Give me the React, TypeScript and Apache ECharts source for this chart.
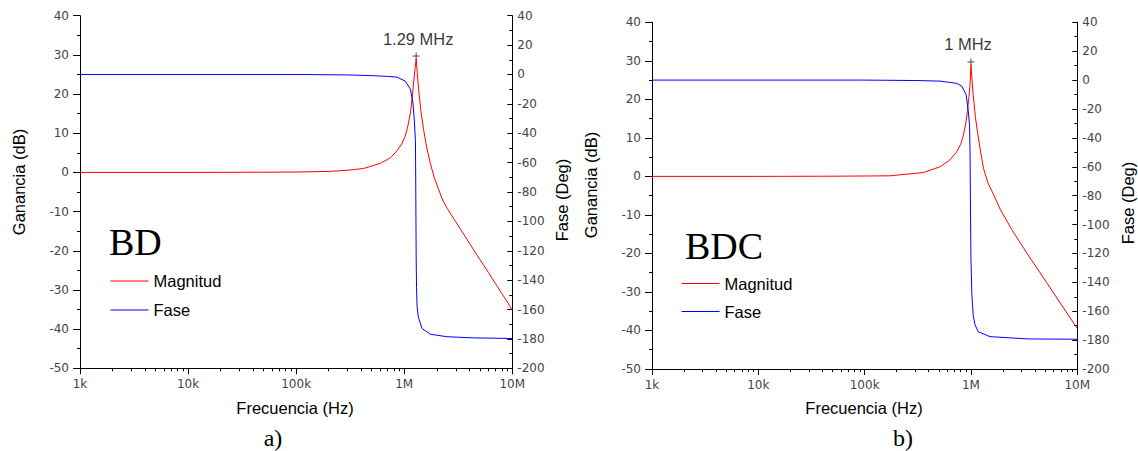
import React, { useEffect, useRef } from 'react';
import * as echarts from 'echarts';

// ---------- data ----------
const xTickLabels = ['1k', '10k', '100k', '1M', '10M'];

// Panel a) BD : [frequency Hz, value]
const bdMagnitude: [number, number][] = [
  [1e3, 0], [1e4, 0], [5e4, 0.05], [1e5, 0.1], [2e5, 0.25], [3e5, 0.55], [4.2e5, 1.0],
  [6e5, 2.3], [7.5e5, 3.8], [8.55e5, 5.5], [9.5e5, 7.3], [1.02e6, 9.2], [1.08e6, 11.8],
  [1.14e6, 15.1], [1.19e6, 19.5], [1.22e6, 22.8], [1.26e6, 26.5], [1.29e6, 29.0],
  [1.32e6, 25.5], [1.36e6, 21.0], [1.43e6, 15.5], [1.51e6, 10.9], [1.62e6, 6.2],
  [1.74e6, 2.4], [1.9e6, -1.4], [2.08e6, -4.3], [2.23e6, -6.6], [2.5e6, -9.2], [3e6, -12.6],
  [4e6, -18.0], [5e6, -22.2], [6e6, -25.5], [7e6, -28.4], [8e6, -30.9], [9e6, -33.1],
  [1e7, -35.2],
];
const bdPhase: [number, number][] = [
  [1e3, 0], [1e5, 0], [3e5, -0.3], [5e5, -0.8], [7e5, -1.3], [8.55e5, -1.8],
  [1.02e6, -4.5], [1.14e6, -10], [1.205e6, -19.5], [1.24e6, -31], [1.27e6, -45],
  [1.28e6, -80], [1.29e6, -125], [1.3e6, -145], [1.315e6, -158], [1.35e6, -165],
  [1.457e6, -172.8], [1.74e6, -176.8], [2.48e6, -178.5], [4.38e6, -179.3], [1e7, -179.7],
];

// Panel b) BDC
const bdcMagnitude: [number, number][] = [
  [1e3, 0], [1e4, 0], [5e4, 0.05], [1e5, 0.1], [1.73e5, 0.15], [3.57e5, 1.0],
  [5.12e5, 2.5], [6.3e5, 4.2], [7.35e5, 6.4], [8e5, 8.3], [8.49e5, 10.7], [8.9e5, 13.5],
  [9.25e5, 16.8], [9.55e5, 20.5], [9.8e5, 23.7], [1.0e6, 29.0], [1.02e6, 25.5],
  [1.05e6, 21.1], [1.1e6, 15.5], [1.15e6, 11.6], [1.23e6, 6.5], [1.31e6, 2.1],
  [1.45e6, -1.8], [1.63e6, -4.7], [1.88e6, -8.5], [2.42e6, -13.8], [3.35e6, -19.9],
  [4.2e6, -23.9], [5.16e6, -27.6], [7e6, -33.1], [1e7, -39.5],
];
const bdcPhase: [number, number][] = [
  [1e3, 0], [1e5, 0], [3e5, -0.3], [5.12e5, -0.7], [7.35e5, -2.3], [8.19e5, -4.2],
  [9e5, -10], [9.45e5, -21.9], [9.7e5, -32], [9.8e5, -50], [9.9e5, -90], [1.0e6, -125],
  [1.02e6, -149], [1.05e6, -163], [1.093e6, -169.5], [1.17e6, -174.2], [1.51e6, -177.6],
  [3.47e6, -179.2], [1e7, -179.4],
];

const peakBD = { freq: 1.29e6, gain: 29.7, label: '1.29 MHz' };
const peakBDC = { freq: 1.0e6, gain: 29.7, label: '1 MHz' };

// ---------- style helpers ----------
const SANS = '"Liberation Sans", Arial, sans-serif';
const TICKFONT = '"DejaVu Sans", sans-serif';
const SERIF = '"Liberation Serif", "Times New Roman", serif';
const RED = '#ff0000';
const BLUE = '#0000ff';

// log-minor tick positions (decoration only), expressed in log10 space
const minorTickPos: number[] = [];
for (let d = 3; d < 7; d++) {
  for (let k = 2; k <= 9; k++) minorTickPos.push(Math.log10(k * Math.pow(10, d)));
}

function mainX(gridIndex: number) {
  return {
    type: 'log', logBase: 10, gridIndex, min: 1e3, max: 1e7, position: 'bottom',
    axisLine: { show: true, onZero: false, lineStyle: { color: '#000', width: 1 } },
    axisTick: { show: true, length: 6, lineStyle: { color: '#000' } },
    axisLabel: {
      margin: 10, color: '#444', fontSize: 12, fontFamily: TICKFONT,
      formatter: (v: number) => xTickLabels[Math.round(Math.log10(v)) - 3] ?? '',
    },
    splitLine: { show: false },
  };
}
function minorX(gridIndex: number) {
  return {
    type: 'value', gridIndex, min: 3, max: 7, position: 'bottom',
    axisLine: { show: true, onZero: false, lineStyle: { color: 'rgba(0,0,0,0)' } },
    axisTick: { show: true, inside: false, length: 3, customValues: minorTickPos, lineStyle: { color: '#000', width: 1 } },
    axisLabel: { show: false },
    splitLine: { show: false },
  };
}
function gainY(gridIndex: number) {
  return {
    type: 'value', gridIndex, min: -50, max: 40, interval: 10, position: 'left',
    axisLine: { show: true, onZero: false, lineStyle: { color: '#000', width: 1 } },
    axisTick: { show: true, length: 7, lineStyle: { color: '#000' } },
    minorTick: { show: true, splitNumber: 2, length: 3, lineStyle: { color: '#000' } },
    axisLabel: { margin: 11, color: '#444', fontSize: 12, fontFamily: TICKFONT },
    splitLine: { show: false },
  };
}
function phaseY(gridIndex: number) {
  return {
    type: 'value', gridIndex, min: -200, max: 40, interval: 20, position: 'right',
    axisLine: { show: true, onZero: false, lineStyle: { color: '#000', width: 1 } },
    axisTick: { show: true, inside: true, length: 5, lineStyle: { color: '#000' } },
    minorTick: { show: true, splitNumber: 2, length: 3, lineStyle: { color: '#000' } },
    axisLabel: { margin: 5, color: '#444', fontSize: 12, fontFamily: TICKFONT },
    splitLine: { show: false },
  };
}
function lineSeries(name: string, data: [number, number][], xi: number, yi: number, color: string) {
  return {
    type: 'line', name, data, xAxisIndex: xi, yAxisIndex: yi,
    showSymbol: false, symbol: 'none', smooth: false,
    lineStyle: { color, width: 1 }, itemStyle: { color },
    emphasis: { disabled: true }, silent: true,
  };
}
function peakSeries(p: { freq: number; gain: number; label: string }, xi: number, yi: number, dx: number) {
  return {
    type: 'scatter', name: 'peak-' + p.label, xAxisIndex: xi, yAxisIndex: yi,
    data: [{ value: [p.freq, p.gain], name: p.label }],
    symbol: 'path://M0,4L8,4M4,0L4,8', symbolSize: 7,
    itemStyle: { color: 'none', borderColor: '#222', borderWidth: 1 },
    label: {
      show: true, position: 'top', distance: 3, offset: [dx, 0],
      formatter: (q: any) => q.name, color: '#000', fontSize: 16.5, fontFamily: SANS,
    },
    silent: true,
  };
}
function txt(text: string, x: number, y: number, size: number, family: string, opts: any = {}) {
  return {
    type: 'text', x, y, rotation: opts.rotation || 0, silent: true,
    style: {
      text, fontSize: size, fontFamily: family, fill: '#000',
      align: opts.align || 'center', verticalAlign: 'middle',
    },
  };
}
function legendAt(left: number, top: number, gap: number) {
  return {
    left, top, orient: 'vertical', padding: 0,
    itemWidth: 38, itemHeight: 17, itemGap: gap,
    data: ['Magnitud', 'Fase'],
    itemStyle: { opacity: 0 },
    lineStyle: { width: 1 },
    textStyle: { color: '#000', fontSize: 16.5, fontFamily: SANS },
    selectedMode: false,
  };
}

export default function App() {
  const ref = useRef<HTMLDivElement>(null);
  useEffect(() => {
    if (!ref.current) return;
    const chart = echarts.init(ref.current, undefined, { renderer: 'svg' });
    const R = Math.PI / 2;
    chart.setOption({
      animation: false,
      backgroundColor: '#fff',
      grid: [
        { left: 80, top: 15.7, width: 432.3, height: 352.6, containLabel: false },
        { left: 652, top: 22.3, width: 425.3, height: 346.7, containLabel: false },
      ],
      xAxis: [mainX(0), minorX(0), mainX(1), minorX(1)],
      yAxis: [gainY(0), phaseY(0), gainY(1), phaseY(1)],
      legend: [legendAt(110, 272.5, 12), legendAt(681, 275, 11)],
      series: [
        lineSeries('Magnitud', bdMagnitude, 0, 0, RED),
        lineSeries('Fase', bdPhase, 0, 1, BLUE),
        peakSeries(peakBD, 0, 0, 2),
        lineSeries('Magnitud', bdcMagnitude, 2, 2, RED),
        lineSeries('Fase', bdcPhase, 2, 3, BLUE),
        peakSeries(peakBDC, 2, 2, -3),
      ],
      graphic: [
        txt('Ganancia (dB)', 19, 182, 16.5, SANS, { rotation: R }),
        txt('Fase (Deg)', 562, 200, 16.5, SANS, { rotation: R }),
        txt('Frecuencia (Hz)', 295, 407.5, 16.5, SANS),
        txt('a)', 273, 438, 24, SERIF),
        txt('BD', 109, 241.5, 38, SERIF, { align: 'left' }),
        txt('Ganancia (dB)', 591, 185, 16.5, SANS, { rotation: R }),
        txt('Fase (Deg)', 1128, 203, 16.5, SANS, { rotation: R }),
        txt('Frecuencia (Hz)', 864, 407.5, 16.5, SANS),
        txt('b)', 903, 438, 24, SERIF),
        txt('BDC', 685, 246, 38, SERIF, { align: 'left' }),
      ],
    });
    return () => chart.dispose();
  }, []);
  return (
    <div
      ref={ref}
      style={{ position: 'absolute', left: 0, top: 0, width: 1138, height: 451, background: '#fff' }}
    />
  );
}
